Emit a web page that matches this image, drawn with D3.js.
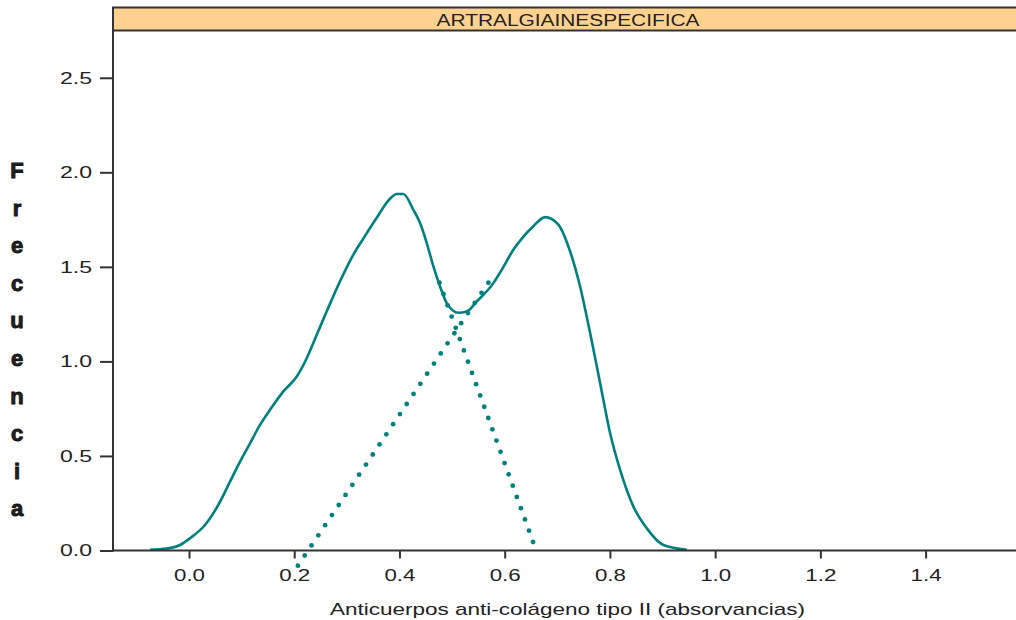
<!DOCTYPE html>
<html>
<head>
<meta charset="utf-8">
<script src="https://cdn.jsdelivr.net/npm/d3@7/dist/d3.min.js"></script>
<style>
  html, body { margin: 0; padding: 0; background: #fff; }
  svg { display: block; }
  text { font-family: "Liberation Sans", Arial, sans-serif; fill: #222; }
</style>
</head>
<body>
<svg id="chart" width="1016" height="620"></svg>
<script>
// Panel title and axis labels
const panelTitle = "ARTRALGIAINESPECIFICA";
const xTitle = "Anticuerpos anti-colágeno tipo II (absorvancias)";
const yTitle = "Frecuencia";

// Tick values
const xTicks = [0.0, 0.2, 0.4, 0.6, 0.8, 1.0, 1.2, 1.4];
const yTicks = [0.0, 0.5, 1.0, 1.5, 2.0, 2.5];

// Kernel density estimate (absorbance, density)
const densityX = [-0.0741, -0.0424, -0.0171, 0.0019, 0.0304, 0.0557, 0.0779, 0.097, 0.116, 0.135,
  0.154, 0.179, 0.2048, 0.2238, 0.2428, 0.2618, 0.2743, 0.2933, 0.3124, 0.3314,
  0.3568, 0.3821, 0.3949, 0.4074, 0.4264, 0.4392, 0.4519, 0.4645, 0.4772, 0.4899,
  0.512, 0.528, 0.547, 0.5785, 0.5913, 0.6165, 0.6546, 0.6768, 0.7021,
  0.7211, 0.7433, 0.7624, 0.7814, 0.8004, 0.8194, 0.8447, 0.8702, 0.9017, 0.9462];
const densityY = [0.004, 0.010, 0.029, 0.065, 0.135, 0.241, 0.364, 0.470, 0.567, 0.664,
  0.744, 0.840, 0.920, 1.017, 1.141, 1.265, 1.345, 1.460, 1.565, 1.650,
  1.760, 1.860, 1.885, 1.885, 1.802, 1.732, 1.626, 1.502, 1.396, 1.308,
  1.257, 1.264, 1.317, 1.414, 1.470, 1.590, 1.715, 1.763, 1.723,
  1.608, 1.396, 1.150, 0.885, 0.620, 0.426, 0.232, 0.117, 0.029, 0.004];

// Dotted reference segments: [x0, y0, x1, y1]
const riseSegment = [0.207, -0.08, 0.569, 1.416];
const fallSegment = [0.476, 1.416, 0.654, 0.045];

const teal = "#008080";
const axisColor = "#333";

const svg = d3.select("#chart");

const plotLeft = 113, plotRight = 1016, plotTop = 30.5, plotBottom = 550.5;
const stripTop = 7.5;

const x = d3.scaleLinear().domain([0, 1.4]).range([189, 925.6]);
const y = d3.scaleLinear().domain([0, 2.75]).range([plotBottom, plotTop]);

// Strip header
svg.append("rect")
  .attr("x", plotLeft).attr("y", stripTop)
  .attr("width", plotRight - plotLeft + 5).attr("height", plotTop - stripTop)
  .attr("fill", "#FFD18E").attr("stroke", axisColor).attr("stroke-width", 2);
svg.append("text")
  .attr("x", 568).attr("y", 25.5)
  .attr("text-anchor", "middle")
  .attr("font-size", 16)
  .attr("fill", "#111")
  .attr("textLength", 263).attr("lengthAdjust", "spacingAndGlyphs")
  .text(panelTitle);

// Dotted segments, one dot every ~12px
[riseSegment, fallSegment].forEach(s => {
  const x0 = x(s[0]), y0 = y(s[1]), x1 = x(s[2]), y1 = y(s[3]);
  const n = Math.round(Math.hypot(x1 - x0, y1 - y0) / 12);
  svg.append("g").selectAll("circle")
    .data(d3.range(n + 1))
    .join("circle")
    .attr("cx", i => x0 + (x1 - x0) * i / n)
    .attr("cy", i => y0 + (y1 - y0) * i / n)
    .attr("r", 2.4)
    .attr("fill", teal);
});

// Density curve
const pts = densityX.map((d, i) => [d, densityY[i]]);
svg.append("path")
  .datum(pts)
  .attr("fill", "none")
  .attr("stroke", teal)
  .attr("stroke-width", 2.6)
  .attr("stroke-linejoin", "round")
  .attr("d", d3.line().x(d => x(d[0])).y(d => y(d[1])).curve(d3.curveMonotoneX));

// X axis
const xAxis = svg.append("g")
  .attr("transform", `translate(0,${plotBottom})`)
  .call(d3.axisBottom(x).tickValues(xTicks).tickFormat(d3.format(".1f")).tickSize(8).tickPadding(11));
xAxis.select(".domain").remove();
xAxis.selectAll(".tick line").attr("stroke", axisColor).attr("stroke-width", 2);
xAxis.selectAll(".tick text")
  .attr("font-size", 16.5).attr("fill", "#222")
  .attr("font-family", "Liberation Sans, Arial, sans-serif")
  .attr("textLength", 31).attr("lengthAdjust", "spacingAndGlyphs");
svg.append("line")
  .attr("x1", plotLeft - 1).attr("x2", plotRight)
  .attr("y1", plotBottom).attr("y2", plotBottom)
  .attr("stroke", axisColor).attr("stroke-width", 2);

// Y axis
const yAxis = svg.append("g")
  .attr("transform", `translate(${plotLeft},0)`)
  .call(d3.axisLeft(y).tickValues(yTicks).tickFormat(d3.format(".1f")).tickSize(13).tickPadding(8));
yAxis.select(".domain").remove();
yAxis.selectAll(".tick line").attr("stroke", axisColor).attr("stroke-width", 2);
yAxis.selectAll(".tick text")
  .attr("font-size", 16.5).attr("fill", "#222")
  .attr("font-family", "Liberation Sans, Arial, sans-serif")
  .attr("textLength", 32).attr("lengthAdjust", "spacingAndGlyphs");
svg.append("line")
  .attr("x1", plotLeft).attr("x2", plotLeft)
  .attr("y1", stripTop).attr("y2", plotBottom + 1)
  .attr("stroke", axisColor).attr("stroke-width", 2);

// Axis titles
svg.append("text")
  .attr("x", 567.5).attr("y", 615)
  .attr("text-anchor", "middle")
  .attr("font-size", 17)
  .attr("textLength", 475).attr("lengthAdjust", "spacingAndGlyphs")
  .text(xTitle);

svg.append("g").selectAll("text")
  .data(yTitle.split(""))
  .join("text")
  .attr("x", 17).attr("y", (d, i) => 178 + i * 37.6)
  .attr("text-anchor", "middle")
  .attr("font-size", 22).attr("font-weight", "bold")
  .attr("fill", "#111").attr("stroke", "#111").attr("stroke-width", 0.9)
  .text(d => d);
</script>
</body>
</html>
